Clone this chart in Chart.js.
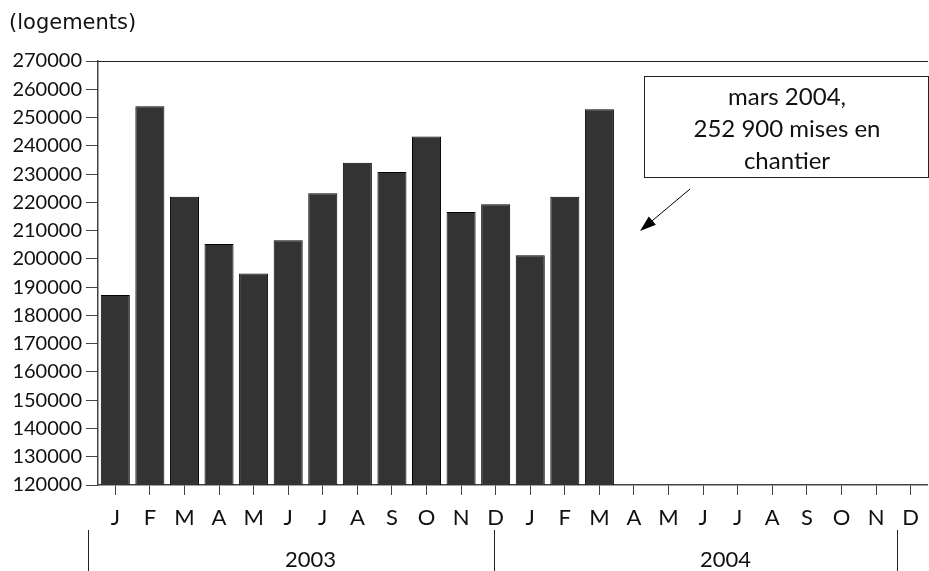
<!DOCTYPE html>
<html>
<head>
<meta charset="utf-8">
<script src="https://cdn.jsdelivr.net/npm/chart.js@4/dist/chart.umd.min.js"></script>
<style>
  html, body { margin: 0; padding: 0; background: #fff; }
  canvas { display: block; }
</style>
</head>
<body>
<canvas id="chart" width="929" height="571"></canvas>
<script>
// Mises en chantier de logements, par mois
const months = ["J", "F", "M", "A", "M", "J", "J", "A", "S", "O", "N", "D",
                "J", "F", "M", "A", "M", "J", "J", "A", "S", "O", "N", "D"];
const years = ["2003", "2004"];
const logements = [187200, 254000, 222000, 205300, 194800, 206600, 223200, 234000,
                   230700, 243300, 216600, 219300, 201300, 222000, 252900,
                   null, null, null, null, null, null, null, null, null];
const yMin = 120000, yMax = 270000, yStep = 10000;
const unitLabel = "(logements)";
const noteLines = ["mars 2004,", "252 900 mises en", "chantier"];

const yTickFont = { family: "Lato", size: 20 };
const xTickFont = { family: "Lato", size: 22 };

// Extra drawing: frame top, unit label, year row, annotation + arrow
const decorations = {
    id: "decorations",
    afterDraw(chart) {
        const ctx = chart.ctx;
        const area = chart.chartArea;
        const x = chart.scales.x;

        ctx.save();

        // top border of the plot
        ctx.strokeStyle = "#222";
        ctx.lineWidth = 1.2;
        ctx.beginPath();
        ctx.moveTo(area.left, area.top + 0.5);
        ctx.lineTo(area.right, area.top + 0.5);
        ctx.stroke();

        // unit label
        ctx.fillStyle = "#111";
        ctx.font = "21px 'DejaVu Sans'";
        ctx.textAlign = "left";
        ctx.textBaseline = "middle";
        ctx.fillText(unitLabel, 9, 24);

        // year row
        const sepTop = 530, sepBottom = 571;
        const seps = [x.getPixelForValue(0) - 27, x.getPixelForValue(11) - 2, x.getPixelForValue(23) - 14];
        ctx.strokeStyle = "#222";
        ctx.lineWidth = 1;
        seps.forEach(function (sx) {
            ctx.beginPath();
            ctx.moveTo(Math.round(sx) + 0.5, sepTop);
            ctx.lineTo(Math.round(sx) + 0.5, sepBottom);
            ctx.stroke();
        });
        ctx.font = "22px Lato";
        ctx.textAlign = "center";
        years.forEach(function (y, i) {
            const cx = (x.getPixelForValue(i * 12 + 5) + x.getPixelForValue(i * 12 + 6)) / 2 + 5;
            ctx.fillText(y, cx, 560);
        });

        // annotation box
        const bx = 644, by = 76, bw = 284, bh = 101;
        ctx.fillStyle = "#fff";
        ctx.fillRect(bx, by, bw, bh);
        ctx.strokeStyle = "#222";
        ctx.strokeRect(bx + 0.5, by + 0.5, bw, bh);
        ctx.fillStyle = "#111";
        ctx.font = "24px Lato";
        noteLines.forEach(function (line, i) {
            ctx.fillText(line, bx + bw / 2 + 1, 97 + i * 32);
        });

        // arrow pointing to the last bar
        const x1 = 690, y1 = 189, x2 = 640, y2 = 231;
        const ang = Math.atan2(y2 - y1, x2 - x1);
        const head = 17;
        ctx.strokeStyle = "#000";
        ctx.lineWidth = 1;
        ctx.beginPath();
        ctx.moveTo(x1, y1);
        ctx.lineTo(x2 - Math.cos(ang) * head * 0.8, y2 - Math.sin(ang) * head * 0.8);
        ctx.stroke();
        ctx.fillStyle = "#000";
        ctx.beginPath();
        ctx.moveTo(x2, y2);
        ctx.lineTo(x2 - head * Math.cos(ang - 0.33), y2 - head * Math.sin(ang - 0.33));
        ctx.lineTo(x2 - head * Math.cos(ang + 0.33), y2 - head * Math.sin(ang + 0.33));
        ctx.closePath();
        ctx.fill();

        ctx.restore();
    }
};

new Chart(document.getElementById("chart"), {
    type: "bar",
    data: {
        labels: months,
        datasets: [{
            label: "logements",
            data: logements,
            backgroundColor: "#333333",
            borderColor: "#000",
            borderWidth: 1,
            barPercentage: 0.84,
            categoryPercentage: 1
        }]
    },
    options: {
        responsive: false,
        animation: false,
        layout: { padding: { top: 61, left: 0, right: 0, bottom: 0 } },
        plugins: {
            legend: { display: false },
            tooltip: { enabled: false }
        },
        scales: {
            x: {
                offset: true,
                afterFit: function (scale) { scale.height = 86; },
                grid: { drawOnChartArea: false, tickLength: 10, color: "#444", offset: false },
                border: { color: "#444", width: 1.5 },
                ticks: { font: xTickFont, color: "#111", padding: 10, maxRotation: 0, autoSkip: false }
            },
            y: {
                min: yMin,
                max: yMax,
                afterFit: function (scale) { scale.width = 98; },
                grid: { drawOnChartArea: false, tickLength: 12, color: "#444" },
                border: { color: "#444", width: 1.5 },
                ticks: {
                    stepSize: yStep,
                    font: yTickFont,
                    color: "#111",
                    padding: 4,
                    callback: function (v) { return String(v); }
                }
            }
        }
    },
    plugins: [decorations]
});
</script>
</body>
</html>
